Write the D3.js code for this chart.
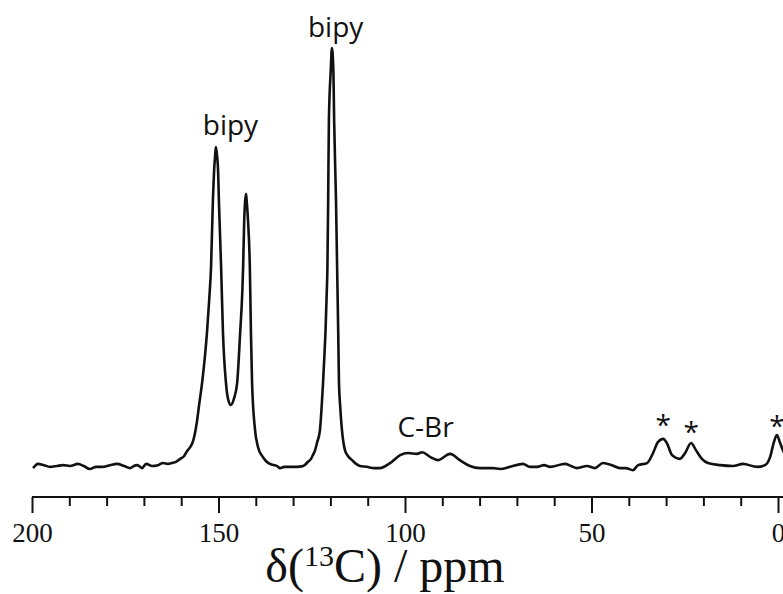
<!DOCTYPE html>
<html lang="en">
<head>
  <meta charset="UTF-8" />
  <title>13C NMR spectrum</title>
  <script src="https://d3js.org/d3.v7.min.js"></script>
  <style>
    html, body {
      margin: 0;
      padding: 0;
      background: #fff;
      overflow: hidden;
    }
    svg {
      display: block;
    }
    .spectrum {
      fill: none;
      stroke: #111;
      stroke-width: 2.6px;
      stroke-linejoin: round;
    }
    .peak-label {
      font-family: "Open Sans", sans-serif;
      font-size: 28px;
      fill: #111;
      text-anchor: middle;
    }
    .axis path, .axis line {
      stroke: #111;
      stroke-width: 2px;
    }
    .axis text {
      font-family: "Liberation Serif", "Times New Roman", serif;
      font-size: 27px;
      fill: #111;
    }
    .axis-title {
      font-family: "Liberation Serif", "Times New Roman", serif;
      font-size: 48px;
      fill: #111;
      text-anchor: middle;
    }
  </style>
</head>
<body>
<svg id="chart" width="783" height="594"></svg>

<script>
const shifts = [
  199.7, 198.4, 196.8, 195.2, 193.3, 191.7, 189.8, 187.7, 186.1, 184.5,
  182.8, 181.2, 179.1, 177.2, 175.3, 173.7, 172.7, 171.8, 171.0, 170.5,
  169.4, 167.8, 166.2, 164.9, 163.5, 162.5, 161.4, 160.3, 159.2, 158.4,
  157.6, 156.8, 156.3, 155.8, 155.2, 154.4, 153.6, 153.1, 152.5, 152.0,
  151.5, 151.2, 150.9, 150.7, 150.4, 150.1, 149.9, 149.3, 148.8, 148.0,
  147.5, 146.7, 145.8, 145.0, 144.2, 143.6, 143.4, 143.1, 142.9, 142.6,
  142.4, 142.1, 141.6, 141.3, 141.0, 140.2, 139.4, 138.3, 137.3, 136.2,
  134.3, 133.5, 132.4, 130.8, 129.0, 127.3, 126.0, 125.2, 124.7, 124.1,
  123.6, 122.8, 122.4, 122.0, 121.6, 121.3, 121.0, 120.8, 120.6, 120.4,
  119.9, 119.6, 119.2, 119.0, 118.5, 118.2, 117.9, 117.7, 117.4, 116.9,
  116.1, 115.3, 114.2, 113.1, 112.1, 110.2, 108.3, 106.7, 104.0, 101.3,
  99.2, 96.8, 95.4, 93.3, 91.2, 87.9, 85.3, 82.6, 79.9, 76.4,
  74.5, 71.8, 68.4, 66.5, 64.6, 62.7, 61.1, 57.1, 55.5, 53.9,
  51.2, 49.1, 46.9, 44.5, 42.4, 40.8, 38.9, 37.5, 35.1, 33.5,
  32.2, 30.8, 29.8, 28.4, 26.3, 24.9, 23.3, 22.0, 20.4, 18.8,
  15.5, 12.1, 9.4, 5.6, 3.5, 2.1, 1.1, 0.3, -0.5, -1.3, -2.4
];

// intensity (arbitrary units, tallest peak = 100)
const intensities = [
  -0.5, 0.5, 0.2, -0.2, 0, 0.2, 0, 0.5, 0, -0.7,
  -0.2, -0.2, 0.2, 0.5, 0, -0.5, 0, 0.2, -0.2, -0.5,
  0.5, 0, 0.2, 0.7, 0.5, 0.7, 1.0, 1.7, 2.4, 3.6,
  4.5, 6.0, 7.9, 10.5, 14.6, 19.9, 26.6, 31.8, 39.7, 47.6,
  63.6, 70.3, 74.4, 76.3, 74.4, 70.3, 63.6, 47.6, 31.8, 19.9,
  16.3, 14.6, 16.3, 19.9, 31.8, 42.1, 47.6, 58.9, 62.9, 65.1,
  62.9, 58.9, 47.6, 31.8, 19.9, 8.6, 4.5, 2.4, 1.2, 0.5,
  0, -0.5, -0.2, -0.2, -0.2, 0, 1.0, 1.7, 2.6, 3.8,
  5.5, 8.6, 13.4, 19.4, 26.6, 32.5, 40.9, 47.6, 63.6, 82.8,
  94.7, 100, 94.7, 82.8, 63.6, 47.6, 31.8, 19.9, 14.6, 8.6,
  3.8, 2.4, 1.4, 0.5, 0, -0.2, -0.5, -0.5, 0.7, 2.6,
  3.1, 2.9, 3.3, 2.2, 1.4, 2.9, 1.4, 0, -0.5, -0.5,
  -0.7, -0.2, 0.5, -0.2, -0.2, 0.2, -0.2, 0.5, 0, -0.5,
  0, -0.5, 0.7, 0.2, -0.5, -0.5, -1.0, 0.2, 0.7, 3.1,
  5.7, 6.5, 5.5, 2.6, 1.7, 3.1, 5.5, 3.8, 1.7, 0.7,
  0.2, 0, 0.5, -0.2, 0.2, 2.2, 5.7, 7.4, 5.7, 3.8, 1.9
];

const majorTicks = [200, 150, 100, 50, 0];
const minorTicks = [190, 180, 170, 160, 140, 130, 120, 110, 90, 80, 70, 60, 40, 30, 20, 10];

const labelText = ["bipy", "bipy", "C-Br", "*", "*", "*"];
const labelShift = [146.8, 118.6, 94.5, 30.8, 23.3, 0.3];
const labelHeight = [79.2, 102.6, 6.9, 7.4, 5.7, 7.2];

const points = shifts.map((s, i) => ({ ppm: s, y: intensities[i] }));

const svg = d3.select("#chart");

const x = d3.scaleLinear()
  .domain([200, -2])
  .range([32, 32 + 202 * 3.73]);

const y = d3.scaleLinear()
  .domain([0, 100])
  .range([466, 48]);

const axisY = 497;

// spectrum trace
svg.append("path")
  .datum(points)
  .attr("class", "spectrum")
  .attr("d", d3.line()
    .x(d => x(d.ppm))
    .y(d => y(d.y))
    .curve(d3.curveMonotoneX));

// peak labels
svg.selectAll("text.peak-label")
  .data(labelText)
  .enter()
  .append("text")
  .attr("class", "peak-label")
  .attr("x", (d, i) => x(labelShift[i]))
  .attr("y", (d, i) => y(labelHeight[i]))
  .text(d => d);

// minor ticks
svg.append("g")
  .attr("class", "axis")
  .attr("transform", `translate(0,${axisY})`)
  .call(d3.axisBottom(x).tickValues(minorTicks).tickSize(9).tickSizeOuter(0).tickFormat(""))
  .call(g => g.select(".domain").remove());

// major ticks + labels
svg.append("g")
  .attr("class", "axis")
  .attr("transform", `translate(0,${axisY})`)
  .call(d3.axisBottom(x).tickValues(majorTicks).tickSize(16).tickSizeOuter(0).tickFormat(d3.format("d")))
  .call(g => g.selectAll("text").attr("y", 45).attr("dy", 0))
  .call(g => g.select(".domain").attr("d", `M${x(200)},0H${x(-2)}`));

// axis title
const title = svg.append("text")
  .attr("class", "axis-title")
  .attr("x", 385)
  .attr("y", 582);
title.append("tspan").text("δ(");
title.append("tspan").attr("font-size", "30px").attr("dy", -16).text("13");
title.append("tspan").attr("dy", 16).text("C) / ppm");
</script>
</body>
</html>
